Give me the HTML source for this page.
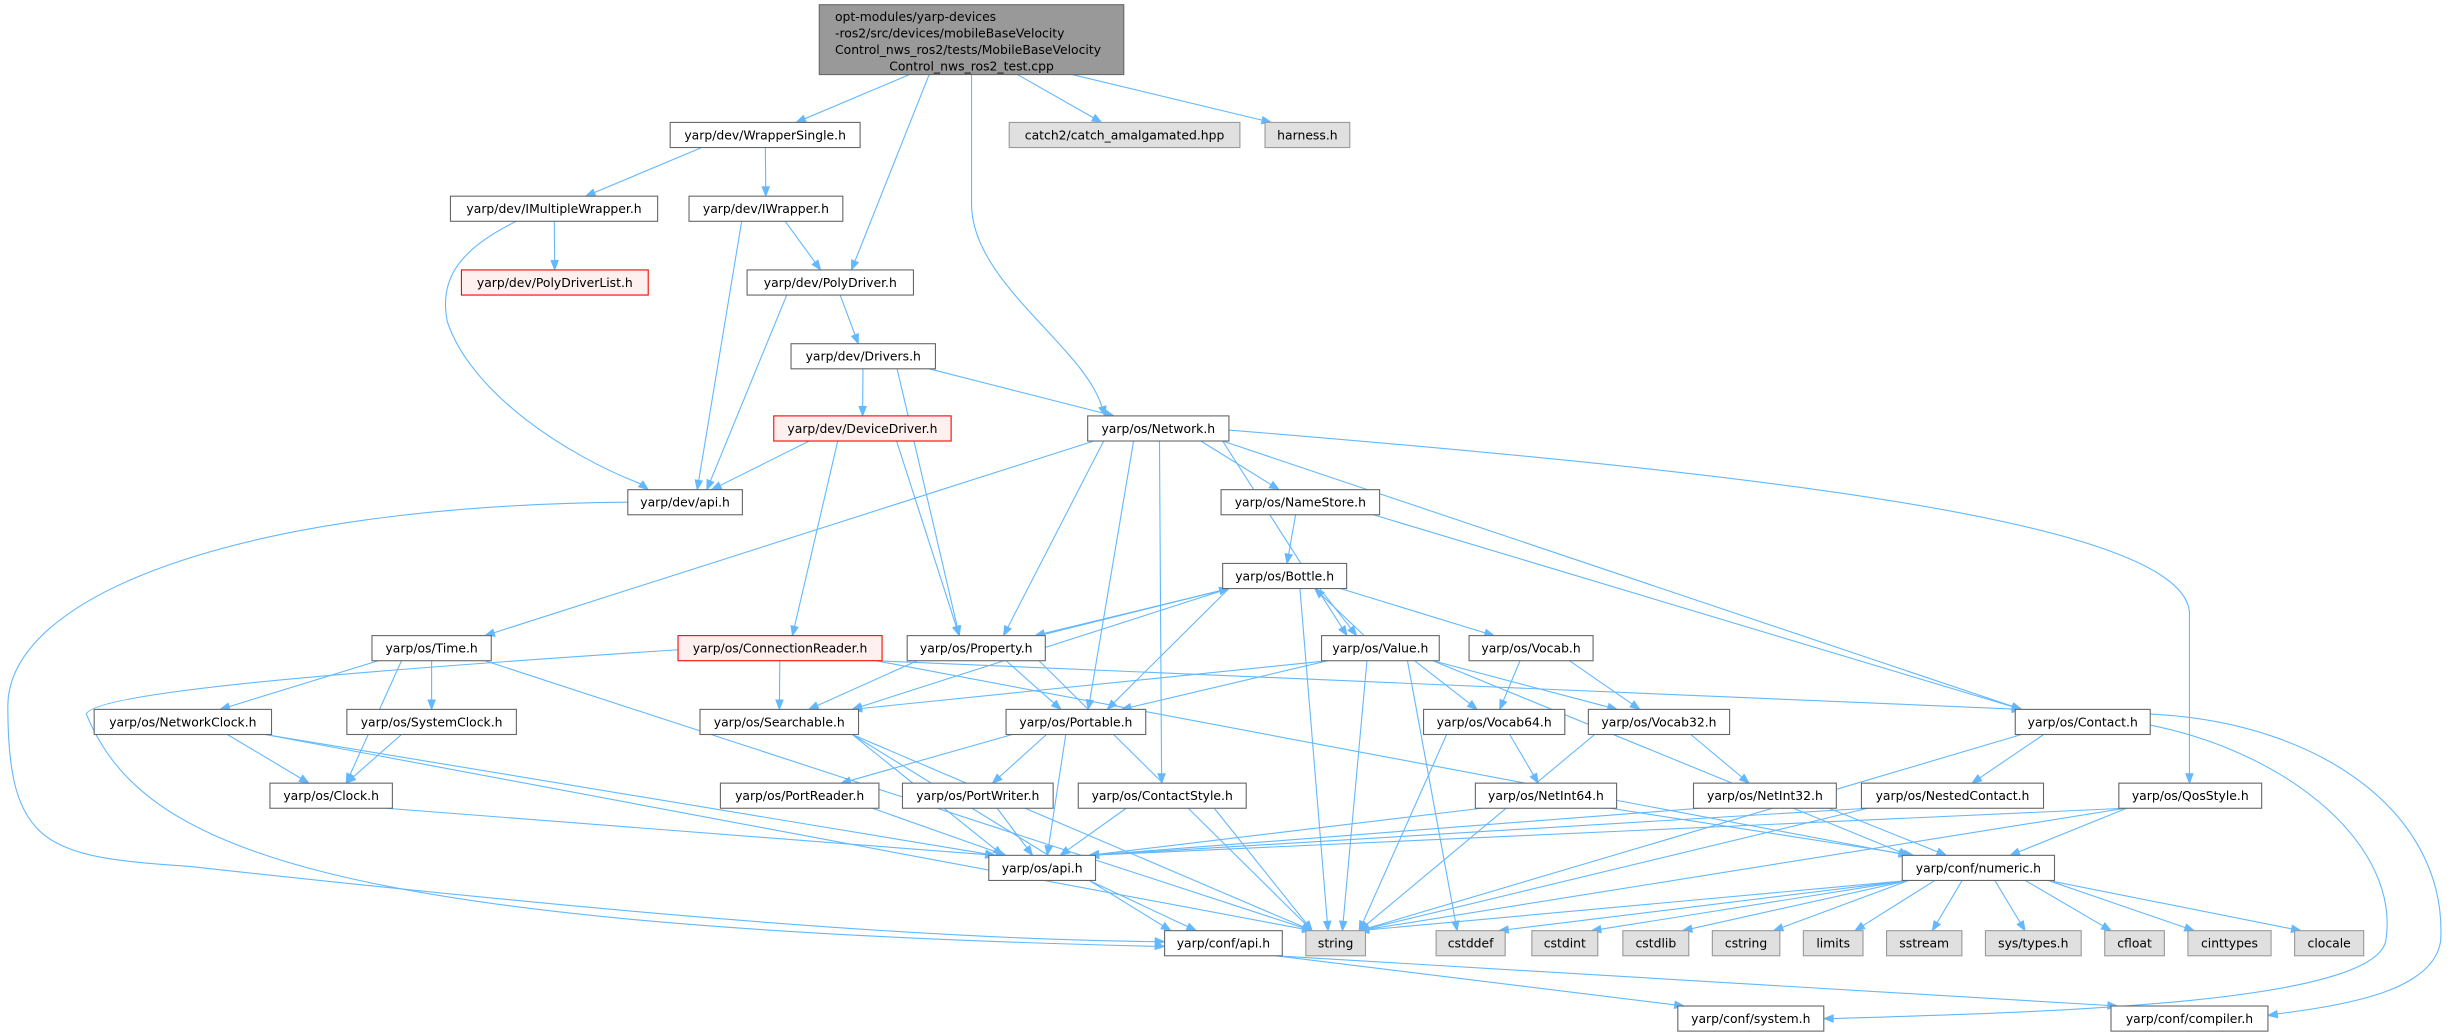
<!DOCTYPE html>
<html><head><meta charset="utf-8">
<style>
html,body{margin:0;padding:0;background:#fff;}
svg{display:block;}
</style></head>
<body>
<svg id="g" width="2461" height="1033" viewBox="0 0 1568 658.2" preserveAspectRatio="none" xmlns="http://www.w3.org/2000/svg" style="position:absolute;left:0;top:0">
<g id="edges" fill="none" stroke="#63b8ff" stroke-width="0.7"></g>
<g id="arrows" fill="#63b8ff" stroke="#63b8ff" stroke-width="0.6"></g>
<g id="nodes" stroke-width="0.7">
<rect x="522" y="3" width="194" height="44.5" fill="#999999" stroke="#666666"/>
</g>
<g font-family="DejaVu Sans, Liberation Sans, sans-serif" font-size="7.9" fill="#000">
<text x="532" y="13.5">opt-modules/yarp-devices</text>
<text x="532" y="24">-ros2/src/devices/mobileBaseVelocity</text>
<text x="532" y="34.5">Control_nws_ros2/tests/MobileBaseVelocity</text>
<text x="619" y="45" text-anchor="middle">Control_nws_ros2_test.cpp</text>
</g>
<g text-anchor="middle" font-family="DejaVu Sans, Liberation Sans, sans-serif" font-size="7.9" fill="#000">
<text x="487.5" y="88.8">yarp/dev/WrapperSingle.h</text>
<text x="716.5" y="88.8">catch2/catch_amalgamated.hpp</text>
<text x="833" y="88.8">harness.h</text>
<text x="353" y="135.8">yarp/dev/IMultipleWrapper.h</text>
<text x="488" y="135.8">yarp/dev/IWrapper.h</text>
<text x="353.5" y="182.8">yarp/dev/PolyDriverList.h</text>
<text x="529" y="182.8">yarp/dev/PolyDriver.h</text>
<text x="550" y="229.8">yarp/dev/Drivers.h</text>
<text x="549.5" y="275.8">yarp/dev/DeviceDriver.h</text>
<text x="738" y="275.8">yarp/os/Network.h</text>
<text x="436.5" y="322.8">yarp/dev/api.h</text>
<text x="828.5" y="322.8">yarp/os/NameStore.h</text>
<text x="818.5" y="369.8">yarp/os/Bottle.h</text>
<text x="275" y="415.8">yarp/os/Time.h</text>
<text x="497" y="415.8">yarp/os/ConnectionReader.h</text>
<text x="622" y="415.8">yarp/os/Property.h</text>
<text x="879.5" y="415.8">yarp/os/Value.h</text>
<text x="975.5" y="415.8">yarp/os/Vocab.h</text>
<text x="116.5" y="462.8">yarp/os/NetworkClock.h</text>
<text x="275" y="462.8">yarp/os/SystemClock.h</text>
<text x="496.5" y="462.8">yarp/os/Searchable.h</text>
<text x="685.5" y="462.8">yarp/os/Portable.h</text>
<text x="952" y="462.8">yarp/os/Vocab64.h</text>
<text x="1057" y="462.8">yarp/os/Vocab32.h</text>
<text x="1327" y="462.8">yarp/os/Contact.h</text>
<text x="211" y="509.8">yarp/os/Clock.h</text>
<text x="509.5" y="509.8">yarp/os/PortReader.h</text>
<text x="623" y="509.8">yarp/os/PortWriter.h</text>
<text x="740.5" y="509.8">yarp/os/ContactStyle.h</text>
<text x="985" y="509.8">yarp/os/NetInt64.h</text>
<text x="1124.5" y="509.8">yarp/os/NetInt32.h</text>
<text x="1244" y="509.8">yarp/os/NestedContact.h</text>
<text x="1395.5" y="509.8">yarp/os/QosStyle.h</text>
<text x="664" y="555.8">yarp/os/api.h</text>
<text x="1260.5" y="555.8">yarp/conf/numeric.h</text>
<text x="779.5" y="603.8">yarp/conf/api.h</text>
<text x="851" y="603.8">string</text>
<text x="937" y="603.8">cstddef</text>
<text x="997" y="603.8">cstdint</text>
<text x="1055" y="603.8">cstdlib</text>
<text x="1112.5" y="603.8">cstring</text>
<text x="1168" y="603.8">limits</text>
<text x="1226" y="603.8">sstream</text>
<text x="1295.5" y="603.8">sys/types.h</text>
<text x="1360" y="603.8">cfloat</text>
<text x="1420.5" y="603.8">cinttypes</text>
<text x="1484" y="603.8">clocale</text>
<text x="1115.5" y="651.8">yarp/conf/system.h</text>
<text x="1395" y="651.8">yarp/conf/compiler.h</text>
</g>
</svg>
<script>
(function(){
var R=[3,78,125,172,219,265,312,359,405,452,499,545,593,641];
var defs=[
["WS",427,548,1,0],["catch",643,790,1,2],["harness",806,860,1,2],
["IMW",287,419,2,0],["IW",439,537,2,0],["PDL",294,413,3,1],["PD",476,582,3,0],
["Drivers",504,596,4,0],["DD",493,606,5,1],["Net",693,783,5,0],["devapi",400,473,6,0],["NS",778,879,6,0],
["Bottle",779,858,7,0],["Time",237,313,8,0],["CR",432,562,8,1],["Prop",578,666,8,0],["Value",842,917,8,0],["Vocab",936,1015,8,0],
["NC",60,173,9,0],["SC",221,329,9,0],["Search",446,547,9,0],["Port",641,730,9,0],["V64",907,997,9,0],["V32",1012,1102,9,0],["Contact",1284,1370,9,0],
["Clock",172,250,10,0],["PR",459,560,10,0],["PW",575,671,10,0],["CS",687,794,10,0],["NI64",940,1030,10,0],["NI32",1079,1170,10,0],["NestC",1186,1302,10,0],["Qos",1350,1441,10,0],
["osapi",630,698,11,0],["num",1212,1309,11,0],
["confapi",742,817,12,0],["string",832,870,12,2],["cstddef",915,959,12,2],["cstdint",976,1018,12,2],["cstdlib",1034,1076,12,2],["cstring",1091,1134,12,2],["limits",1149,1187,12,2],["sstream",1202,1250,12,2],["systypes",1265,1326,12,2],["cfloat",1341,1379,12,2],["cinttypes",1394,1447,12,2],["clocale",1462,1506,12,2],
["system",1069,1162,13,0],["compiler",1345,1445,13,0]];
var NS="http://www.w3.org/2000/svg";
var N={root:[522,716,3,47.5]};
var ng=document.getElementById("nodes"),eg=document.getElementById("edges"),ag=document.getElementById("arrows");
function el(t,a,p){var e=document.createElementNS(NS,t);for(var k in a)e.setAttribute(k,a[k]);p.appendChild(e);return e;}
defs.forEach(function(d){
 var y=R[d[3]];N[d[0]]=[d[1],d[2],y,y+16];
 var fill=d[4]==1?"#fff0f0":d[4]==2?"#e0e0e0":"#ffffff";
 var st=d[4]==1?"#ff0000":d[4]==2?"#999999":"#666666";
 el("rect",{x:d[1],y:y,width:d[2]-d[1],height:16,fill:fill,stroke:st},ng);
});
function arrow(x,y,cx,cy){var dx=x-cx,dy=y-cy,l=Math.sqrt(dx*dx+dy*dy)||1;dx/=l;dy/=l;var L=6,W=2.3;
 var bx=x-dx*L,by=y-dy*L;el("path",{d:"M"+x+","+y+"L"+(bx-dy*W)+","+(by+dx*W)+"L"+(bx+dy*W)+","+(by-dx*W)+"Z"},ag);}
function cl(v,a,b){return Math.max(a,Math.min(b,v));}
function E(a,b,o1,o2){var A=N[a],B=N[b];o1=o1||0;o2=o2||0;
 var ac=(A[0]+A[1])/2,bc=(B[0]+B[1])/2,sx,sy,ex,ey;
 sx=cl(ac+(bc-ac)*0.3+o1,A[0]+4,A[1]-4);ex=cl(bc+(ac-bc)*0.15+o2,B[0]+4,B[1]-4);
 if(B[2]>A[3]-1){sy=A[3];ey=B[2];}else{sy=A[2];ey=B[3];}
 var l=Math.sqrt((ex-sx)*(ex-sx)+(ey-sy)*(ey-sy))||1;
 var px=ex-(ex-sx)/l*5.5,py=ey-(ey-sy)/l*5.5;
 el("path",{d:"M"+sx+","+sy+"L"+px+","+py},eg);
 arrow(ex,ey,sx,sy);}
function P(d,ex,ey,tx,ty){el("path",{d:d},eg);arrow(ex,ey,tx,ty);}
var list=[["root","WS"],["root","PD"],["root","catch"],["root","harness"],
["WS","IMW"],["WS","IW"],["IMW","PDL"],["IW","PD"],["IW","devapi"],["PD","Drivers"],["PD","devapi"],
["Drivers","DD"],["Drivers","Net"],["Drivers","Prop"],["DD","devapi"],["DD","CR"],["DD","Prop"],
["Net","Time"],["Net","Prop"],["Net","Port"],["Net","CS"],["Net","NS"],["Net","Value"],["Net","Contact"],
["NS","Bottle"],["NS","Contact"],["Bottle","Prop",-6,8],["Prop","Bottle",6,-14],["Bottle","Value",4,-6],["Value","Bottle",8,10],["Bottle","Vocab"],
["Bottle","Search"],["Bottle","Port"],["Bottle","string"],["Prop","Search"],["Prop","Port"],["Prop","string"],
["Value","Search"],["Value","Port"],["Value","V64"],["Value","V32"],["Value","string"],["Value","cstddef"],["Value","num"],
["Vocab","V64"],["Vocab","V32"],["Time","NC"],["Time","SC"],["Time","Clock"],["Time","string"],
["CR","Search"],["CR","Contact"],["CR","num"],["NC","Clock"],["NC","osapi"],["NC","string"],["SC","Clock"],
["Search","osapi"],["Search","string"],["Search","confapi"],["Clock","osapi"],["Port","osapi"],["Port","PR"],["Port","PW"],
["PR","osapi"],["PW","osapi"],["CS","osapi"],["CS","string"],["V64","NI64"],["V64","string"],["V32","NI32"],["V32","string"],
["NI64","osapi"],["NI64","num"],["NI32","osapi"],["NI32","num"],["Contact","NestC"],["Contact","string"],
["NestC","osapi"],["NestC","string"],["Qos","osapi"],["Qos","string"],["Qos","num"],
["num","string"],["num","cstddef"],["num","cstdint"],["num","cstdlib"],["num","cstring"],["num","limits"],["num","sstream"],["num","systypes"],["num","cfloat"],["num","cinttypes"],["num","clocale"],
["osapi","confapi"],["confapi","system"],["confapi","compiler"]];
list.forEach(function(e){E(e[0],e[1],e[2],e[3]);});
P("M400,320C150,322 5,380 5,450C5,540 30,546 120,552C330,575 560,598 736,600",742,600,700,599);
P("M329,141C290,160 280,180 285,205C300,250 360,290 410,309",413,312,395,298);
P("M432,414C250,426 60,440 55,455C90,540 200,590 736,603",742,603,700,601);
P("M619,47.5L619,130C619,180 690,220 702,259",704,265,700,250);
P("M783,274C1100,300 1390,330 1395,390L1395,493",1395,499,1395,480);
P("M1370,455C1480,460 1560,520 1555,600C1550,630 1500,640 1451,646",1445,647,1460,645);
P("M1370,462C1460,480 1530,540 1520,600C1510,640 1300,645 1168,649",1162,649,1180,649);
})();
</script>
</body></html>
